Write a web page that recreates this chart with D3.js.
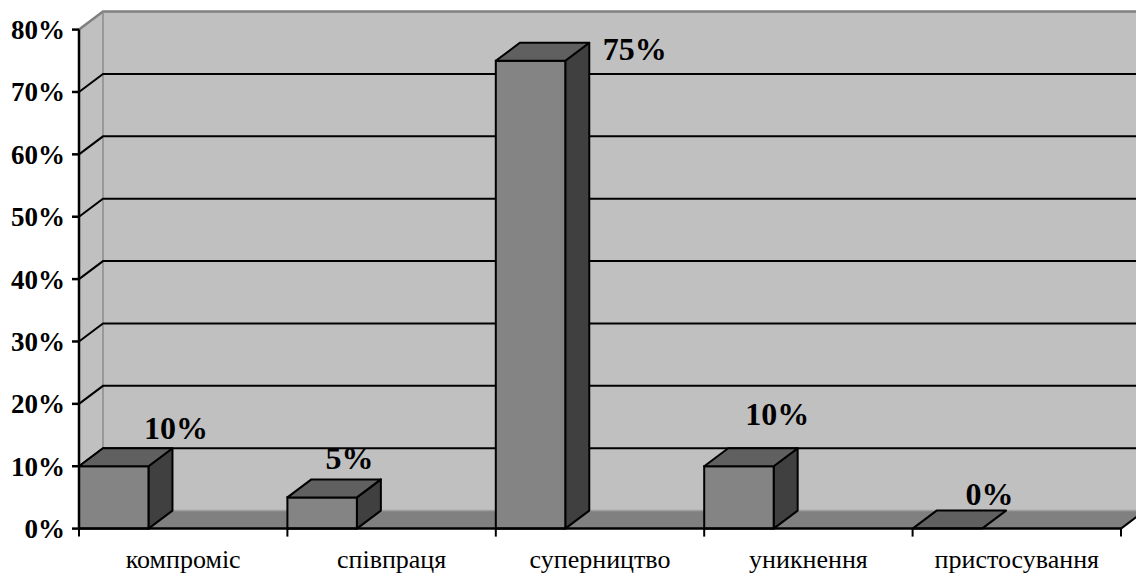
<!DOCTYPE html>
<html>
<head>
<meta charset="utf-8">
<script src="https://cdn.jsdelivr.net/npm/d3@7"></script>
<style>
  html, body { margin: 0; padding: 0; background: #ffffff; }
  svg { display: block; }
</style>
</head>
<body>
<svg id="chart" width="1136" height="573"></svg>
<script>
// Conflict-handling styles and the share of respondents choosing each
const categories = ["компроміс", "співпраця", "суперництво", "уникнення", "пристосування"];
const shares = [10, 5, 75, 10, 0];
const yTicks = [0, 10, 20, 30, 40, 50, 60, 70, 80];

// Layout
const W = 1136, H = 573;
const axisX = 79, axisRight = 1121;
const yTop = 29.6, yBottom = 528.6;
const depthX = 24, depthY = -18;        // oblique offset of the 3D depth
const serif = "'Liberation Serif', 'Times New Roman', serif";

// Hand-placed label offsets (relative to band start / bar front top)
const labelShiftX = [97, 62, 139, 73, 77];
const labelShiftY = [-27, -28, -0.6, -41, -24];

const svg = d3.select("#chart");

const x = d3.scaleBand().domain(categories).range([axisX, axisRight]).padding(0);
const y = d3.scaleLinear().domain([0, 80]).range([yBottom, yTop]);
const barW = x.bandwidth() / 3;

const pts = a => a.map(p => p.join(",")).join(" ");

// Side wall (left) and back wall
svg.append("polygon")
  .attr("points", pts([[axisX, y(80)], [axisX + depthX, y(80) + depthY],
                       [axisX + depthX, y(0) + depthY], [axisX, y(0)]]))
  .attr("fill", "#c0c0c0");
svg.append("rect")
  .attr("x", axisX + depthX).attr("y", y(80) + depthY)
  .attr("width", W - axisX - depthX + 20).attr("height", y(0) - y(80))
  .attr("fill", "#c0c0c0");

// Wall outlines
svg.append("path")
  .attr("d", `M${axisX},${y(80)} L${axisX + depthX},${y(80) + depthY} L${W + 10},${y(80) + depthY}`)
  .attr("fill", "none").attr("stroke", "#808080").attr("stroke-width", 2.5);
svg.append("line")
  .attr("x1", axisX + depthX).attr("x2", axisX + depthX)
  .attr("y1", y(80) + depthY).attr("y2", y(0) + depthY)
  .attr("stroke", "#8c8c8c").attr("stroke-width", 1.5);

// Gridlines: slanted on the side wall, horizontal on the back wall
const grid = yTicks.filter(v => v > 0 && v < 80);
svg.append("g").selectAll("path").data(grid).join("path")
  .attr("d", v => `M${axisX},${y(v)} L${axisX + depthX},${y(v) + depthY} L${W + 10},${y(v) + depthY}`)
  .attr("fill", "none").attr("stroke", "#000").attr("stroke-width", 2);

// Floor
svg.append("polygon")
  .attr("points", pts([[axisX, y(0)], [axisRight, y(0)],
                       [axisRight + depthX, y(0) + depthY], [axisX + depthX, y(0) + depthY]]))
  .attr("fill", "#808080");
svg.append("line")
  .attr("x1", axisX + depthX).attr("x2", W + 10)
  .attr("y1", y(0) + depthY).attr("y2", y(0) + depthY)
  .attr("stroke", "#a0a0a0").attr("stroke-width", 1.5);
svg.append("line")
  .attr("x1", axisRight).attr("y1", y(0))
  .attr("x2", axisRight + depthX).attr("y2", y(0) + depthY)
  .attr("stroke", "#000").attr("stroke-width", 2);

// Bars: front face, top face, right side face
const bars = svg.append("g").selectAll("g").data(categories).join("g");
bars.each(function (c, i) {
  const g = d3.select(this);
  const x0 = x(c), x1 = x(c) + barW;
  const yt = y(shares[i]), yb = y(0);
  if (shares[i] > 0) {
    g.append("polygon")
      .attr("points", pts([[x1, yt], [x1 + depthX, yt + depthY], [x1 + depthX, yb + depthY], [x1, yb]]))
      .attr("fill", "#404040").attr("stroke", "#000").attr("stroke-width", 2)
      .attr("stroke-linejoin", "round");
    g.append("rect")
      .attr("x", x0).attr("y", yt).attr("width", barW).attr("height", yb - yt)
      .attr("fill", "#848484").attr("stroke", "#000").attr("stroke-width", 2);
  }
  g.append("polygon")
    .attr("points", pts([[x0, yt], [x0 + depthX, yt + depthY], [x1 + depthX, yt + depthY], [x1, yt]]))
    .attr("fill", "#606060").attr("stroke", "#000").attr("stroke-width", 2)
    .attr("stroke-linejoin", "round");
});

// Value labels
svg.append("g").selectAll("text").data(categories).join("text")
  .attr("x", (c, i) => x(c) + labelShiftX[i])
  .attr("y", (c, i) => y(shares[i]) + labelShiftY[i])
  .attr("text-anchor", "middle")
  .attr("font-family", serif).attr("font-weight", "bold").attr("font-size", 32)
  .attr("fill", "#000")
  .text((c, i) => shares[i] + "%");

// Value axis
const yAxis = svg.append("g");
yAxis.append("line")
  .attr("x1", axisX).attr("x2", axisX).attr("y1", y(80)).attr("y2", y(0))
  .attr("stroke", "#000").attr("stroke-width", 2.5);
yAxis.selectAll("line.tick").data(yTicks).join("line").attr("class", "tick")
  .attr("x1", axisX - 7).attr("x2", axisX).attr("y1", d => y(d)).attr("y2", d => y(d))
  .attr("stroke", "#000").attr("stroke-width", 2.5);
yAxis.selectAll("text").data(yTicks).join("text")
  .attr("x", axisX - 14).attr("y", d => y(d) + 9.5)
  .attr("text-anchor", "end")
  .attr("font-family", serif).attr("font-weight", "bold").attr("font-size", 27)
  .attr("fill", "#000")
  .text(d => d + "%");

// Category axis
const xAxis = svg.append("g");
xAxis.append("line")
  .attr("x1", axisX).attr("x2", axisRight).attr("y1", y(0)).attr("y2", y(0))
  .attr("stroke", "#000").attr("stroke-width", 2.5);
const boundaries = categories.map(c => x(c)).concat([axisRight]);
xAxis.selectAll("line.tick").data(boundaries).join("line").attr("class", "tick")
  .attr("x1", d => d).attr("x2", d => d).attr("y1", y(0)).attr("y2", y(0) + 8)
  .attr("stroke", "#000").attr("stroke-width", 2);
xAxis.selectAll("text").data(categories).join("text")
  .attr("x", d => x(d) + x.bandwidth() / 2).attr("y", 568)
  .attr("text-anchor", "middle")
  .attr("font-family", serif).attr("font-size", 26)
  .attr("fill", "#000")
  .text(d => d);
</script>
</body>
</html>
